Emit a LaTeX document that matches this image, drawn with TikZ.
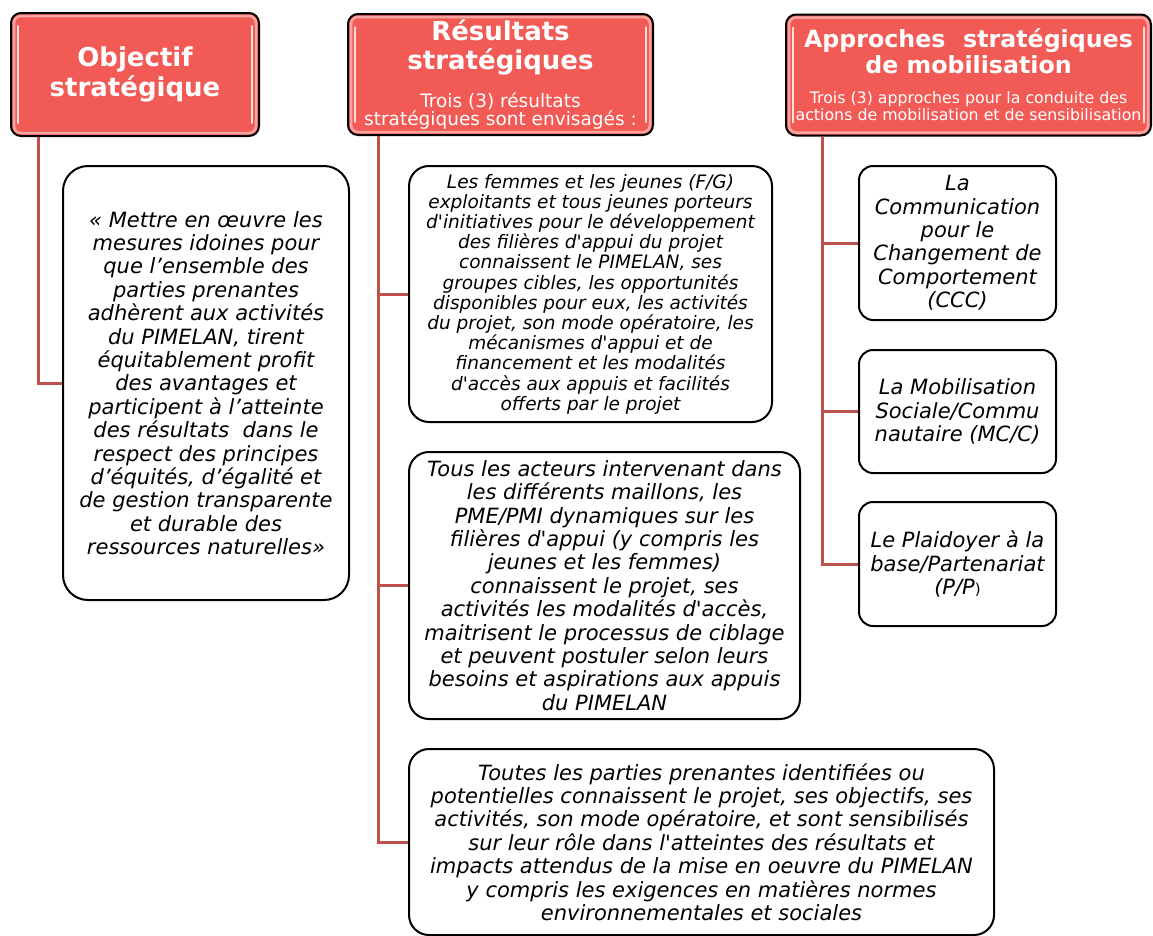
\documentclass[tikz,border=0pt]{standalone}
\usepackage{fontspec}
\setmainfont{DejaVu Sans}[Ligatures=TeXOff]
\setlength{\parindent}{0pt}
\definecolor{hdred}{HTML}{F25A55}
\definecolor{linkred}{HTML}{C0504D}

\begin{document}
\begin{tikzpicture}[x=1pt, y=-1pt,
  hdr/.style={draw=black, line width=2pt, fill=hdred, rounded corners=10pt, text=white, align=flush center, inner sep=2pt},
  txtbox/.style={draw=black, line width=2pt, fill=white, rounded corners=20pt, align=center, inner sep=2pt, font=\itshape\fontsize{21}{23.4}\selectfont},
  appbox/.style={txtbox, rounded corners=14pt},
  link/.style={draw=linkred, line width=3pt},
  glow/.style={draw=white, line width=2.5pt, opacity=0.45, rounded corners=7pt},
  gloss/.style={draw=white, line width=2pt, opacity=0.8, line cap=round}]

  \useasboundingbox (0,0) rectangle (1153,935);

  \node[hdr, minimum width=248pt, minimum height=123pt, font=\bfseries\fontsize{26}{30}\selectfont] (hobj) at (135,74.5) {Objectif\\stratégique};
  \node[hdr, minimum width=305pt, minimum height=121pt, text width=298pt] (hres) at (500.5,74.5)
    {{\fontsize{26}{29}\bfseries Résultats\\stratégiques\par}\vspace{16pt}%
     {\fontsize{18.5}{18}\selectfont Trois (3) résultats\\stratégiques sont envisagés :\par}};
  \node[hdr, minimum width=365pt, minimum height=121pt, text width=358pt] (happ) at (968.5,75)
    {{\fontsize{23.7}{26}\bfseries Approches\hspace{0.75em}stratégiques\\de mobilisation\par}\vspace{13pt}%
     {\fontsize{15.8}{17}\selectfont Trois (3) approches pour la conduite des\\actions de mobilisation et de sensibilisation\par}};

  \foreach \h in {hobj,hres,happ} {
    \draw[glow] ([shift={(4,4)}]\h.north west) rectangle ([shift={(-4,-4)}]\h.south east);
    \draw[gloss] ([shift={(8,14)}]\h.north west) -- ([shift={(8,-14)}]\h.south west);
    \draw[gloss] ([shift={(-8,14)}]\h.north east) -- ([shift={(-8,-14)}]\h.south east);
  }

  \node[txtbox, minimum width=286pt, minimum height=434pt, rounded corners=25pt] (obj) at (206,383)
    {« Mettre en œuvre les\\mesures idoines pour\\que l’ensemble des\\parties prenantes\\adhèrent aux activités\\du PIMELAN, tirent\\équitablement profit\\des avantages et\\participent à l’atteinte\\des résultats\ \ dans le\\respect des principes\\d’équités, d’égalité et\\de gestion transparente\\et durable des\\ressources naturelles»};

  \node[txtbox, minimum width=363pt, minimum height=256pt, font=\itshape\fontsize{18.5}{20.2}\selectfont] (res1) at (590.5,294)
    {Les femmes et les jeunes (F/G)\\exploitants et tous jeunes porteurs\\d'initiatives pour le développement\\des filières d'appui du projet\\connaissent le PIMELAN, ses\\groupes cibles, les opportunités\\disponibles pour eux, les activités\\du projet, son mode opératoire, les\\mécanismes d'appui et de\\financement et les modalités\\d'accès aux appuis et facilités\\offerts par le projet};
  \node[txtbox, minimum width=391pt, minimum height=267pt] (res2) at (604.5,585.5)
    {Tous les acteurs intervenant dans\\les différents maillons, les\\PME/PMI dynamiques sur les\\filières d'appui (y compris les\\jeunes et les femmes)\\connaissent le projet, ses\\activités les modalités d'accès,\\maitrisent le processus de ciblage\\et peuvent postuler selon leurs\\besoins et aspirations aux appuis\\du PIMELAN};
  \node[txtbox, minimum width=585pt, minimum height=186pt] (res3) at (701.5,842)
    {Toutes les parties prenantes identifiées ou\\potentielles connaissent le projet, ses objectifs, ses\\activités, son mode opératoire, et sont sensibilisés\\sur leur rôle dans l'atteintes des résultats et\\impacts attendus de la mise en oeuvre du PIMELAN\\y compris les exigences en matières normes\\environnementales et sociales};

  \node[appbox, minimum width=197pt, minimum height=154pt] (app1) at (957.5,243)
    {La\\Communication\\pour le\\Changement de\\Comportement\\(CCC)};
  \node[appbox, minimum width=197pt, minimum height=123pt] (app2) at (957.5,411.5)
    {La Mobilisation\\Sociale/Commu\\nautaire (MC/C)};
  \node[appbox, minimum width=197pt, minimum height=124pt] (app3) at (957.5,564)
    {Le Plaidoyer à la\\base/Partenariat\\(P/P{\upshape\fontsize{15}{15}\selectfont)}};

  \coordinate (objstem) at ([xshift=28pt]hobj.south west);
  \coordinate (resstem) at ([xshift=31pt]hres.south west);
  \coordinate (appstem) at ([xshift=37pt]happ.south west);

  \draw[link] (objstem) |- (obj.west);
  \foreach \r in {res1,res2,res3} \draw[link] (resstem) |- (\r.west);
  \foreach \a in {app1,app2,app3} \draw[link] (appstem) |- (\a.west);

\end{tikzpicture}
\end{document}
